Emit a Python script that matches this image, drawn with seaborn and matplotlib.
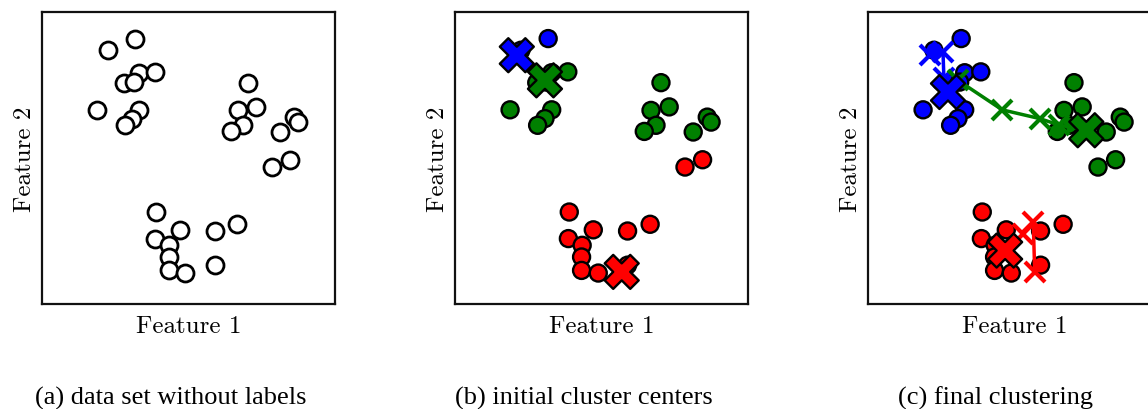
import numpy as np
import pandas as pd
import matplotlib
matplotlib.use("Agg")
import matplotlib.pyplot as plt
import seaborn as sns

# ---- data -------------------------------------------------------------
feature1 = [3.18, 2.25, 3.30, 3.85, 2.79, 3.13, 1.88, 3.30, 3.07, 2.82,
            7.03, 7.31, 6.69, 6.86, 6.46, 8.61, 8.74, 8.13, 8.45, 7.85,
            3.90, 4.72, 5.89, 6.66, 3.87, 4.34, 4.32, 4.32, 4.89, 5.89]
feature2 = [9.09, 8.69, 7.92, 7.95, 7.58, 7.60, 6.65, 6.65, 6.35, 6.12,
            7.58, 6.75, 6.63, 6.12, 5.91, 6.40, 6.23, 5.89, 4.94, 4.69,
            3.15, 2.54, 2.50, 2.73, 2.24, 2.01, 1.61, 1.15, 1.06, 1.33]

# cluster assignment after initialisation and after convergence
initial_labels = ["blue"] * 2 + ["green"] * 16 + ["red"] * 12
final_labels = ["blue"] * 10 + ["green"] * 10 + ["red"] * 10

# initial centres
init_cluster = ["blue", "green", "red"]
init_x = [2.11, 3.07, 5.69]
init_y = [8.52, 7.66, 1.10]

# centre trajectories during the iterations (last entry = final centre)
path_blue_x = [2.11, 2.56, 2.59, 2.73]
path_blue_y = [8.52, 8.63, 7.74, 7.26]
path_green_x = [3.07, 4.58, 5.86, 6.52, 7.45]
path_green_y = [7.66, 6.65, 6.35, 6.13, 5.95]
path_red_x = [5.69, 5.64, 5.30, 4.68]
path_red_y = [1.10, 2.80, 2.40, 1.83]

captions = ["(a) data set without labels",
            "(b) initial cluster centers",
            "(c) final clustering"]

# ---- style ------------------------------------------------------------
sns.set_style("white")
plt.rcParams["font.family"] = ["DejaVu Sans"]
plt.rcParams["text.color"] = "black"
plt.rcParams["axes.labelcolor"] = "black"
palette = {"blue": "#0000ff", "green": "#008000", "red": "#ff0000"}

points = pd.DataFrame({"Feature 1": feature1, "Feature 2": feature2,
                       "initial": initial_labels, "final": final_labels})
centres = pd.DataFrame({"Feature 1": init_x, "Feature 2": init_y,
                        "cluster": init_cluster})

paths = []
for name, xs, ys in [("blue", path_blue_x, path_blue_y),
                     ("green", path_green_x, path_green_y),
                     ("red", path_red_x, path_red_y)]:
    for i, (x, y) in enumerate(zip(xs, ys)):
        paths.append({"Feature 1": x, "Feature 2": y, "cluster": name, "step": i})
paths = pd.DataFrame(paths)
final_centres = paths.sort_values("step").groupby("cluster", sort=False).tail(1)

fig = plt.figure(figsize=(11.48, 4.10), dpi=100)
W, H = 293 / 1148, 292 / 410
bottom = 1 - 305 / 410
lefts = [42 / 1148, 455 / 1148, 868 / 1148]
axes = [fig.add_axes([l, bottom, W, H]) for l in lefts]

PT_S = 150
EDGE = 1.7
BIG_S = 600

# (a) unlabelled data
sns.scatterplot(data=points, x="Feature 1", y="Feature 2", ax=axes[0],
                color="white", edgecolor="black", linewidth=EDGE + 0.3, s=PT_S,
                zorder=3)

# (b) initial assignment with initial centres
sns.scatterplot(data=points, x="Feature 1", y="Feature 2", hue="initial",
                palette=palette, ax=axes[1], edgecolor="black",
                linewidth=EDGE, s=PT_S, legend=False, zorder=3)
sns.scatterplot(data=centres, x="Feature 1", y="Feature 2", hue="cluster",
                palette=palette, ax=axes[1], marker="X", edgecolor="black",
                linewidth=EDGE, s=BIG_S, legend=False, zorder=5)

# (c) final clustering with centre trajectories
ax = axes[2]
sns.scatterplot(data=points, x="Feature 1", y="Feature 2", hue="final",
                palette=palette, ax=ax, edgecolor="black",
                linewidth=EDGE, s=PT_S, legend=False, zorder=3)
for name, grp in paths.groupby("cluster"):
    sns.lineplot(data=grp, x="Feature 1", y="Feature 2", sort=False,
                 estimator=None, ax=ax, color=palette[name], linewidth=2.5,
                 marker="x", markersize=14, markeredgewidth=3.0,
                 markeredgecolor=palette[name], zorder=4)
sns.scatterplot(data=final_centres, x="Feature 1", y="Feature 2",
                hue="cluster", palette=palette, ax=ax, marker="X",
                edgecolor="black", linewidth=EDGE, s=BIG_S, legend=False,
                zorder=5)

for a in axes:
    a.set_xlim(0, 10)
    a.set_ylim(0, 10)
    a.set_xticks([])
    a.set_yticks([])
    for sp in a.spines.values():
        sp.set_visible(True)
        sp.set_color("#111111")
        sp.set_linewidth(1.6)
    a.set_xlabel("Feature 1", fontfamily="cmr10", fontsize=18, labelpad=8,
                  color="black")
    a.set_ylabel("Feature 2", fontfamily="cmr10", fontsize=18, labelpad=4,
                  color="black")

for xc, text in zip([171 / 1148, 584 / 1148, 996 / 1148], captions):
    fig.text(xc, 1 - 398 / 410, text, ha="center", va="center",
             fontfamily="Liberation Serif", fontsize=19, color="black")

fig.savefig("out.png", dpi=100)
